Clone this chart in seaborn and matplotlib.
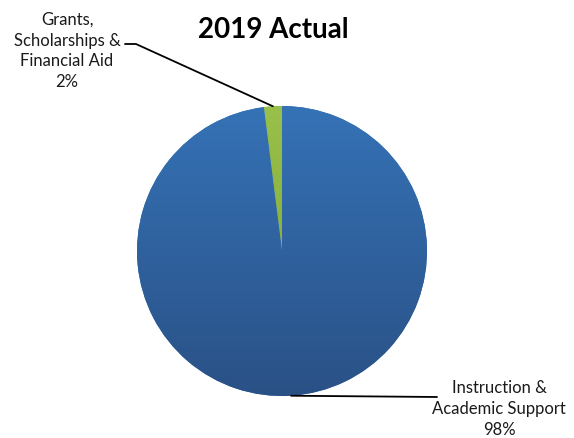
import numpy as np
import matplotlib
matplotlib.use("Agg")
import matplotlib.pyplot as plt
import seaborn as sns
from matplotlib.colors import LinearSegmentedColormap

# data
categories = ["Grants,\nScholarships &\nFinancial Aid", "Instruction &\nAcademic Support"]
shares = [2, 98]
title = "2019 Actual"

sns.set_style("white")
plt.rcParams["font.family"] = ["Lato", "DejaVu Sans"]

W, H = 574, 439
fig = plt.figure(figsize=(W / 100, H / 100), dpi=100)
ax = fig.add_axes([0, 0, 1, 1])

cx, cy, r = 282, H - 252, 145
wedges, _ = ax.pie(shares, startangle=90, counterclock=True, center=(cx, cy),
                   radius=r, frame=True, colors=["#8ab43e", "#3170b3"])
ax.set_xlim(0, W)
ax.set_ylim(0, H)
ax.set_aspect("equal")
ax.axis("off")

# vertical gradient fill clipped to each wedge
grads = [["#98c04a", "#7aa233"], ["#3572b6", "#2a5186"]]
grad = np.linspace(0, 1, 256).reshape(-1, 1)
for w, (top, bot) in zip(wedges, grads):
    cmap = LinearSegmentedColormap.from_list("g", [top, bot])
    im = ax.imshow(grad, cmap=cmap, extent=(cx - r, cx + r, cy - r, cy + r),
                   origin="upper", aspect="auto", zorder=w.get_zorder() + 0.1)
    im.set_clip_path(w)
    w.set_edgecolor("none")

# labels with leader lines
pcts = [f"{s}%" for s in shares]
label_pos = [(67, H - 51), (499, H - 409)]
elbow = [(125, H - 45), (437, H - 398)]
for w, cat, pct, (tx, ty), (ex, ey) in zip(wedges, categories, pcts, label_pos, elbow):
    ang = np.deg2rad((w.theta1 + w.theta2) / 2)
    px, py = cx + r * np.cos(ang), cy + r * np.sin(ang)
    if px < cx:
        ax.plot([ex, ex + 11, px], [ey, ey, py], color="black", lw=1.3, zorder=5)
    else:
        ax.plot([px, ex], [py, ey], color="black", lw=1.3, zorder=5)
    ax.text(tx, ty, f"{cat}\n{pct}", ha="center", va="center", fontsize=12,
            linespacing=1.38, color="#1a1a1a")

ax.text(273, H - 30, title, ha="center", va="center", fontsize=20,
        fontweight="bold", color="black")

fig.savefig("out.png", dpi=100)
